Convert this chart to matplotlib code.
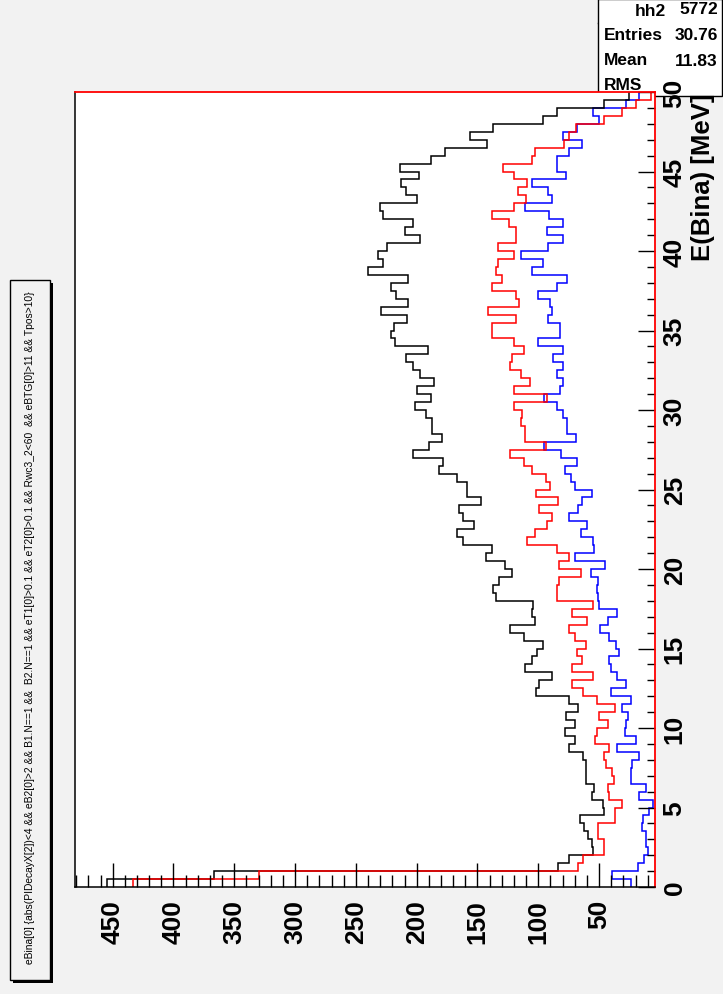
import numpy as np
import matplotlib
matplotlib.use("Agg")
import matplotlib.pyplot as plt
from matplotlib.patches import Rectangle
from matplotlib.ticker import MultipleLocator

# E(Bina) binning: 100 bins of 0.5 MeV from 0 to 50
e_min, e_max, n_bins = 0.0, 50.0, 100
edges = np.linspace(e_min, e_max, n_bins + 1)

black_counts = [455, 367, 84, 75, 55, 56, 59, 62, 66, 46,
                47, 56, 54, 61, 61, 61, 63, 75, 70, 78,
                70, 77, 67, 75, 102, 99, 89, 111, 105, 101,
                96, 112, 123, 103, 105, 104, 135, 137, 132, 122,
                127, 143, 138, 162, 167, 153, 162, 165, 147, 159,
                159, 167, 182, 178, 203, 190, 179, 187, 187, 192,
                201, 188, 200, 186, 197, 203, 209, 191, 218, 221,
                219, 208, 229, 207, 217, 221, 207, 240, 228, 232,
                224, 197, 210, 203, 228, 230, 200, 209, 213, 198,
                214, 188, 177, 142, 156, 137, 96, 85, 46, 25]

red_counts = [433, 330, 67, 63, 46, 46, 51, 51, 37, 37,
              31, 42, 43, 38, 39, 44, 46, 42, 53, 52,
              43, 50, 37, 52, 63, 72, 55, 72, 64, 68,
              61, 70, 75, 60, 72, 55, 85, 85, 83, 65,
              83, 75, 85, 109, 103, 93, 89, 99, 84, 102,
              90, 94, 105, 112, 123, 94, 111, 111, 114, 113,
              120, 93, 120, 107, 114, 123, 122, 112, 120, 138,
              138, 118, 141, 116, 118, 138, 130, 135, 133, 120,
              133, 118, 118, 124, 138, 120, 110, 117, 109, 120,
              129, 105, 103, 79, 75, 69, 46, 31, 20, 7]

blue_counts = [24, 39, 18, 13, 10, 11, 11, 15, 14, 9,
               6, 17, 11, 24, 24, 23, 17, 35, 20, 29,
               28, 26, 31, 24, 40, 28, 35, 40, 42, 34,
               36, 42, 49, 43, 35, 50, 51, 52, 51, 57,
               45, 70, 54, 55, 65, 60, 75, 67, 64, 56,
               70, 73, 78, 68, 81, 95, 69, 76, 76, 80,
               85, 95, 82, 80, 85, 80, 88, 80, 100, 82,
               82, 92, 89, 90, 100, 85, 76, 105, 96, 114,
               92, 80, 93, 80, 91, 111, 89, 92, 105, 77,
               85, 85, 75, 64, 80, 68, 50, 55, 28, 17]

count_ticks = [50, 100, 150, 200, 250, 300, 350, 400, 450]
energy_ticks = [0, 5, 10, 15, 20, 25, 30, 35, 40, 45, 50]

stat_name = "hh2"
stat_labels = ["Entries", "Mean", "RMS"]
stat_values = ["5772", "30.76", "11.83"]

cut_title = ("eBina[0] {abs(PIDecayX[2])<4 && eB2[0]>2 && B1.N==1 &&  B2.N==1 "
             "&& eT1[0]>0.1 && eT2[0]>0.1 && Rwc3_2<60  && eBTG[0]>11 && Tpos>10}")

W, H = 723, 995
bg = "#f2f2f2"
plt.rcParams['font.family'] = ['Liberation Sans', 'DejaVu Sans']
plt.rcParams['font.weight'] = 'bold'

fig = plt.figure(figsize=(W / 100, H / 100), dpi=100, facecolor=bg)


def fx(px):
    return px / W


def fy(py):
    return 1 - py / H


# frame in pixels: left 75, right 655, top 93, bottom 888
ax = fig.add_axes([fx(75), fy(888), fx(655) - fx(75), fy(93) - fy(888)])
ax.set_facecolor("white")

# histograms lie on their side: counts run right-to-left, energy upward
ax.stairs(blue_counts, edges, orientation='horizontal', baseline=None,
          color='#0000ff', lw=1.1)
ax.stairs(black_counts, edges, orientation='horizontal', baseline=None,
          color='black', lw=1.1)
ax.stairs(red_counts, edges, orientation='horizontal', baseline=None,
          color='#ff0000', lw=1.1)

ax.set_xlim(481, 4)
ax.set_ylim(e_min, e_max)

ax.xaxis.set_ticks(count_ticks)
ax.xaxis.set_minor_locator(MultipleLocator(10))
ax.yaxis.set_ticks(energy_ticks)
ax.yaxis.set_minor_locator(MultipleLocator(1))
ax.yaxis.tick_right()

ax.tick_params(axis='x', which='major', direction='in', length=17, width=1,
               labelsize=19, pad=8.5, labelrotation=90)
ax.tick_params(axis='x', which='minor', direction='in', length=8.5, width=1)
ax.tick_params(axis='y', which='major', direction='in', length=12, width=1,
               labelsize=19, pad=5.5, labelrotation=90)
ax.tick_params(axis='y', which='minor', direction='in', length=6, width=1)
plt.setp(ax.get_yticklabels(), va='center')

for side in ['left', 'bottom']:
    ax.spines[side].set_color('black')
    ax.spines[side].set_linewidth(1.1)
for side in ['top', 'right']:
    ax.spines[side].set_color('#ff0000')
    ax.spines[side].set_linewidth(1.3)

fig.text(fx(703), fy(93), "E(Bina) [MeV]", rotation=90, ha='center', va='top',
         fontsize=18.5, fontweight='bold')

# cut string box on the left
fig.patches.append(Rectangle((fx(13), fy(984)), fx(40), fy(280) - fy(980),
                             transform=fig.transFigure, facecolor='black',
                             edgecolor='black', lw=0, zorder=1))
fig.patches.append(Rectangle((fx(10), fy(981)), fx(40), fy(280) - fy(980),
                             transform=fig.transFigure, facecolor=bg,
                             edgecolor='black', lw=1, zorder=2))
fig.text(fx(30), fy(628), cut_title, rotation=90, ha='center', va='center',
         fontsize=7.4, fontweight='normal', zorder=3)

# statistics box, top right (kept beneath the axes so tick labels stay visible)
fig.patches.append(Rectangle((fx(598), fy(97)), fx(124), fy(0) - fy(97),
                             transform=fig.transFigure, facecolor='white',
                             edgecolor='black', lw=1, zorder=-1))
fig.add_artist(plt.Line2D([fx(598), fx(722)], [fy(24), fy(24)],
                          transform=fig.transFigure, color='black', lw=1,
                          zorder=-1))
fig.text(fx(650), fy(12), stat_name, ha='center', va='center', fontsize=12.5)
for i, lab in enumerate(stat_labels):
    fig.text(fx(604), fy(36 + 24.5 * i), lab, ha='left', va='center',
             fontsize=12.5)
for i, val in enumerate(stat_values):
    fig.text(fx(718), fy(10 + 26 * i), val, ha='right', va='center',
             fontsize=12.5)

fig.savefig("out.png", dpi=100, facecolor=bg)
